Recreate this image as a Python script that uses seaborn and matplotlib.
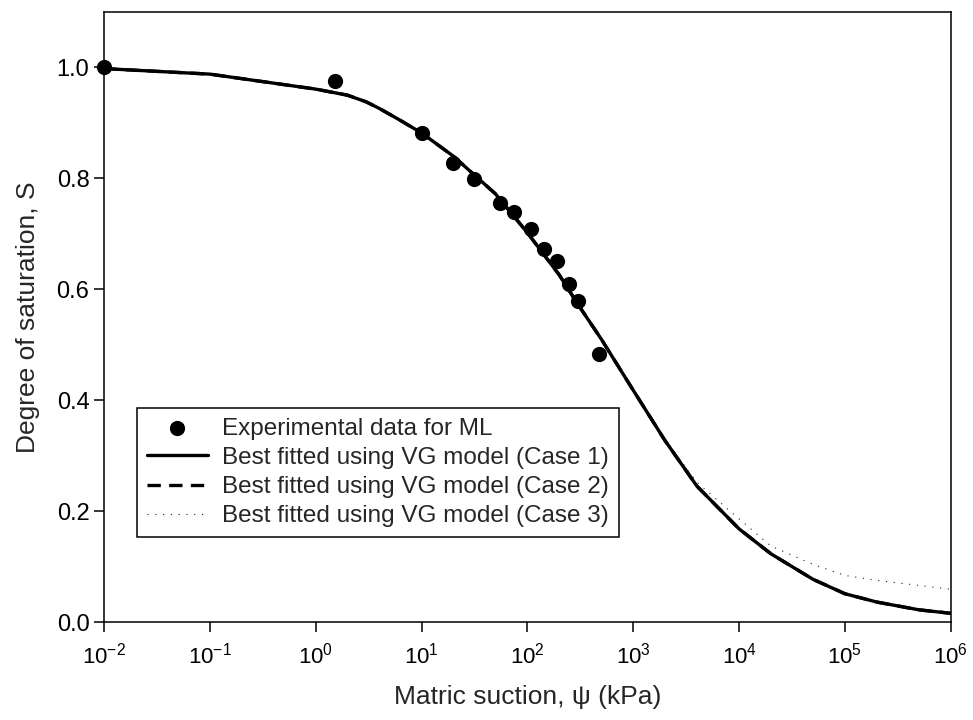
import matplotlib
matplotlib.use('Agg')
import matplotlib.pyplot as plt
import matplotlib.ticker as mticker
import seaborn as sns
import pandas as pd

# experimental points (matric suction kPa, degree of saturation)
suction_exp = [0.01, 1.53, 10.2, 20, 31.4, 55.3, 74, 108.6, 144, 192, 247, 298, 480]
sat_exp = [1.0, 0.975, 0.882, 0.828, 0.798, 0.756, 0.739, 0.708, 0.672, 0.651, 0.609, 0.578, 0.483]

# fitted curves
suction_fit = [0.01, 0.1, 1, 2, 3, 4, 6, 10, 20, 50, 100, 200, 300, 500, 1000, 2000, 4000,
               1e4, 2e4, 5e4, 1e5, 2e5, 5e5, 1e6]
sat_case1 = [0.998, 0.988, 0.961, 0.950, 0.938, 0.926, 0.907, 0.882, 0.840, 0.772, 0.702,
             0.626, 0.573, 0.510, 0.418, 0.327, 0.245, 0.168, 0.123, 0.077, 0.051, 0.036,
             0.022, 0.0157]
sat_case2 = list(sat_case1)
sat_case3 = [0.998, 0.988, 0.961, 0.950, 0.938, 0.926, 0.907, 0.882, 0.840, 0.772, 0.702,
             0.626, 0.573, 0.510, 0.418, 0.329, 0.252, 0.186, 0.137, 0.104, 0.084, 0.075,
             0.066, 0.059]

fit = pd.DataFrame({'suction': suction_fit, 'case1': sat_case1,
                    'case2': sat_case2, 'case3': sat_case3})
exp = pd.DataFrame({'suction': suction_exp, 'S': sat_exp})

sns.set_style('ticks')
plt.rcParams['font.family'] = ['Liberation Sans', 'DejaVu Sans']
plt.rcParams['mathtext.fontset'] = 'custom'
plt.rcParams['mathtext.rm'] = 'Liberation Sans'
plt.rcParams['mathtext.it'] = 'Liberation Sans:italic'

fig = plt.figure(figsize=(9.73, 7.2), dpi=100)
ax = fig.add_axes([0.1069, 0.1361, 0.8702, 0.8472])
ax.set_xscale('log')

sns.lineplot(x='suction', y='case2', data=fit, ax=ax, color='black', linewidth=2.4,
             linestyle=(0, (4, 2.5)), label='Best fitted using VG model (Case 2)', zorder=2)
sns.lineplot(x='suction', y='case3', data=fit, ax=ax, color='#222222', linewidth=0.8,
             linestyle=(0, (1, 6)), label='Best fitted using VG model (Case 3)', zorder=2)
sns.lineplot(x='suction', y='case1', data=fit, ax=ax, color='black', linewidth=2.4,
             label='Best fitted using VG model (Case 1)', zorder=3)
sns.scatterplot(x='suction', y='S', data=exp, ax=ax, color='black', s=120,
                edgecolor='black', linewidth=0, label='Experimental data for ML',
                zorder=4, clip_on=False)

ax.set_xlim(1e-2, 1e6)
ax.set_ylim(0, 1.1)
ax.xaxis.set_major_locator(mticker.LogLocator(base=10, numticks=20))
ax.xaxis.set_minor_locator(mticker.NullLocator())
ax.set_yticks([0.0, 0.2, 0.4, 0.6, 0.8, 1.0])
ax.yaxis.set_major_formatter(mticker.FormatStrFormatter('%.1f'))
ax.tick_params(axis='both', direction='out', length=7, width=1.1,
               color='black', labelcolor='black')
ax.tick_params(axis='x', pad=8, labelsize=16)
ax.tick_params(axis='y', labelsize=17)
for sp in ax.spines.values():
    sp.set_color('black')
    sp.set_linewidth(1.1)

ax.set_xlabel('Matric suction, ψ (kPa)', fontsize=19, labelpad=12)
ax.set_ylabel('Degree of saturation, S', fontsize=19, labelpad=12)

handles, labels = ax.get_legend_handles_labels()
order = ['Experimental data for ML', 'Best fitted using VG model (Case 1)',
         'Best fitted using VG model (Case 2)', 'Best fitted using VG model (Case 3)']
hmap = dict(zip(labels, handles))
leg = ax.legend([hmap[k] for k in order], order, loc='lower left',
                bbox_to_anchor=(0.039, 0.139), borderaxespad=0, fontsize=17.5,
                frameon=True, fancybox=False, edgecolor='black', framealpha=1,
                handlelength=2.5, labelspacing=0.3, handletextpad=0.6,
                borderpad=0.4)
leg.get_frame().set_linewidth(1.1)

fig.savefig('out.png', dpi=100)
